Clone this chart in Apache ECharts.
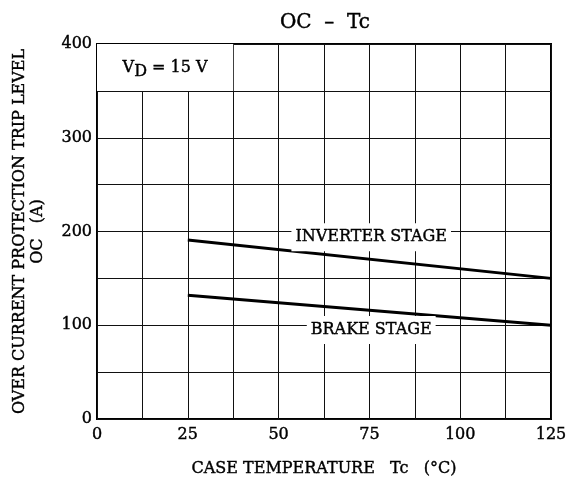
<!DOCTYPE html>
<html>
<head>
<meta charset="utf-8">
<script src="https://cdn.jsdelivr.net/npm/echarts@6/dist/echarts.min.js"></script>
<style>
html,body{margin:0;padding:0;background:#fff;}
#c{width:573px;height:484px;}
</style>
</head>
<body>
<div id="c"></div>
<script>
const titleText = 'OC  –  Tc';
const xName = 'CASE TEMPERATURE   Tc   (°C)';
const yName = 'OVER CURRENT PROTECTION TRIP LEVEL\nOC   (A)';
const tempC = [25, 125];
const inverterOC = [191, 150];
const brakeOC = [132, 100];
const inverterLabel = 'INVERTER STAGE';
const brakeLabel = 'BRAKE STAGE';
const conditionText = 'V{sub|D} = 15 V';
const xTicks = [0, 25, 50, 75, 100, 125];
const yTicks = [0, 100, 200, 300, 400];

const FONT = 'DejaVu Serif';
const FS = 16;
const STROKE = {textBorderColor: '#000', textBorderWidth: 0.4};
const chart = echarts.init(document.getElementById('c'));

function lineData(xs, ys){ return xs.map((x,i)=>[x, ys[i]]); }
function ts(extra){ return Object.assign({fontFamily: FONT, fontSize: FS, color: '#000'}, STROKE, extra || {}); }

const labelStyle = ts({
  show: true,
  backgroundColor: '#fff',
  padding: [6, 4, 6, 4]
});

chart.setOption({
  animation: false,
  backgroundColor: '#fff',
  title: {
    text: titleText,
    left: 320, top: 8, textAlign: 'center',
    textStyle: ts({fontSize: 20, fontWeight: 'normal'})
  },
  grid: {left: 97, right: 22, top: 44, bottom: 65, outerBoundsMode: 'none', containLabel: false,
         show: true, borderColor: '#000', borderWidth: 2, backgroundColor: 'transparent'},
  xAxis: {
    type: 'value', min: 0, max: 125, interval: 12.5,
    name: xName, nameLocation: 'middle', nameGap: 42,
    nameTextStyle: ts(),
    axisLine: {show: false},
    axisTick: {show: false},
    axisLabel: ts({
      margin: 8,
      formatter: v => xTicks.indexOf(v) >= 0 ? String(v) : ''
    }),
    splitLine: {show: true, lineStyle: {color: '#111', width: 1}}
  },
  yAxis: {
    type: 'value', min: 0, max: 400, interval: 50,
    name: yName, nameLocation: 'middle', nameGap: 50, nameRotate: 90,
    nameTextStyle: ts({lineHeight: 18, align: 'center'}),
    axisLine: {show: false},
    axisTick: {show: false},
    axisLabel: ts({
      margin: 5,
      formatter: v => yTicks.indexOf(v) >= 0 ? String(v) : ''
    }),
    splitLine: {show: true, lineStyle: {color: '#111', width: 1}}
  },
  series: [
    {
      type: 'line', data: lineData(tempC, inverterOC), symbol: 'none',
      lineStyle: {color: '#000', width: 3},
      markArea: {
        silent: true,
        itemStyle: {color: '#fff', opacity: 1},
        label: ts({
          show: true, position: 'inside',
          formatter: conditionText,
          rich: {sub: ts({verticalAlign: 'bottom', padding: [8,0,0,0]})}
        }),
        data: [[{coord: [0, 350]}, {coord: [37.5, 400]}]]
      },
      markPoint: {
        symbol: 'rect', symbolSize: 0,
        label: Object.assign({}, labelStyle, {position: 'inside', formatter: inverterLabel}),
        data: [{coord: [75.5, 194], value: inverterLabel}]
      },
      z: 3
    },
    {
      type: 'line', data: lineData(tempC, brakeOC), symbol: 'none',
      lineStyle: {color: '#000', width: 3},
      markPoint: {
        symbol: 'rect', symbolSize: 0,
        label: Object.assign({}, labelStyle, {position: 'inside', formatter: brakeLabel}),
        data: [{coord: [75.5, 95], value: brakeLabel}]
      },
      z: 3
    }
  ]
});
</script>
</body>
</html>
